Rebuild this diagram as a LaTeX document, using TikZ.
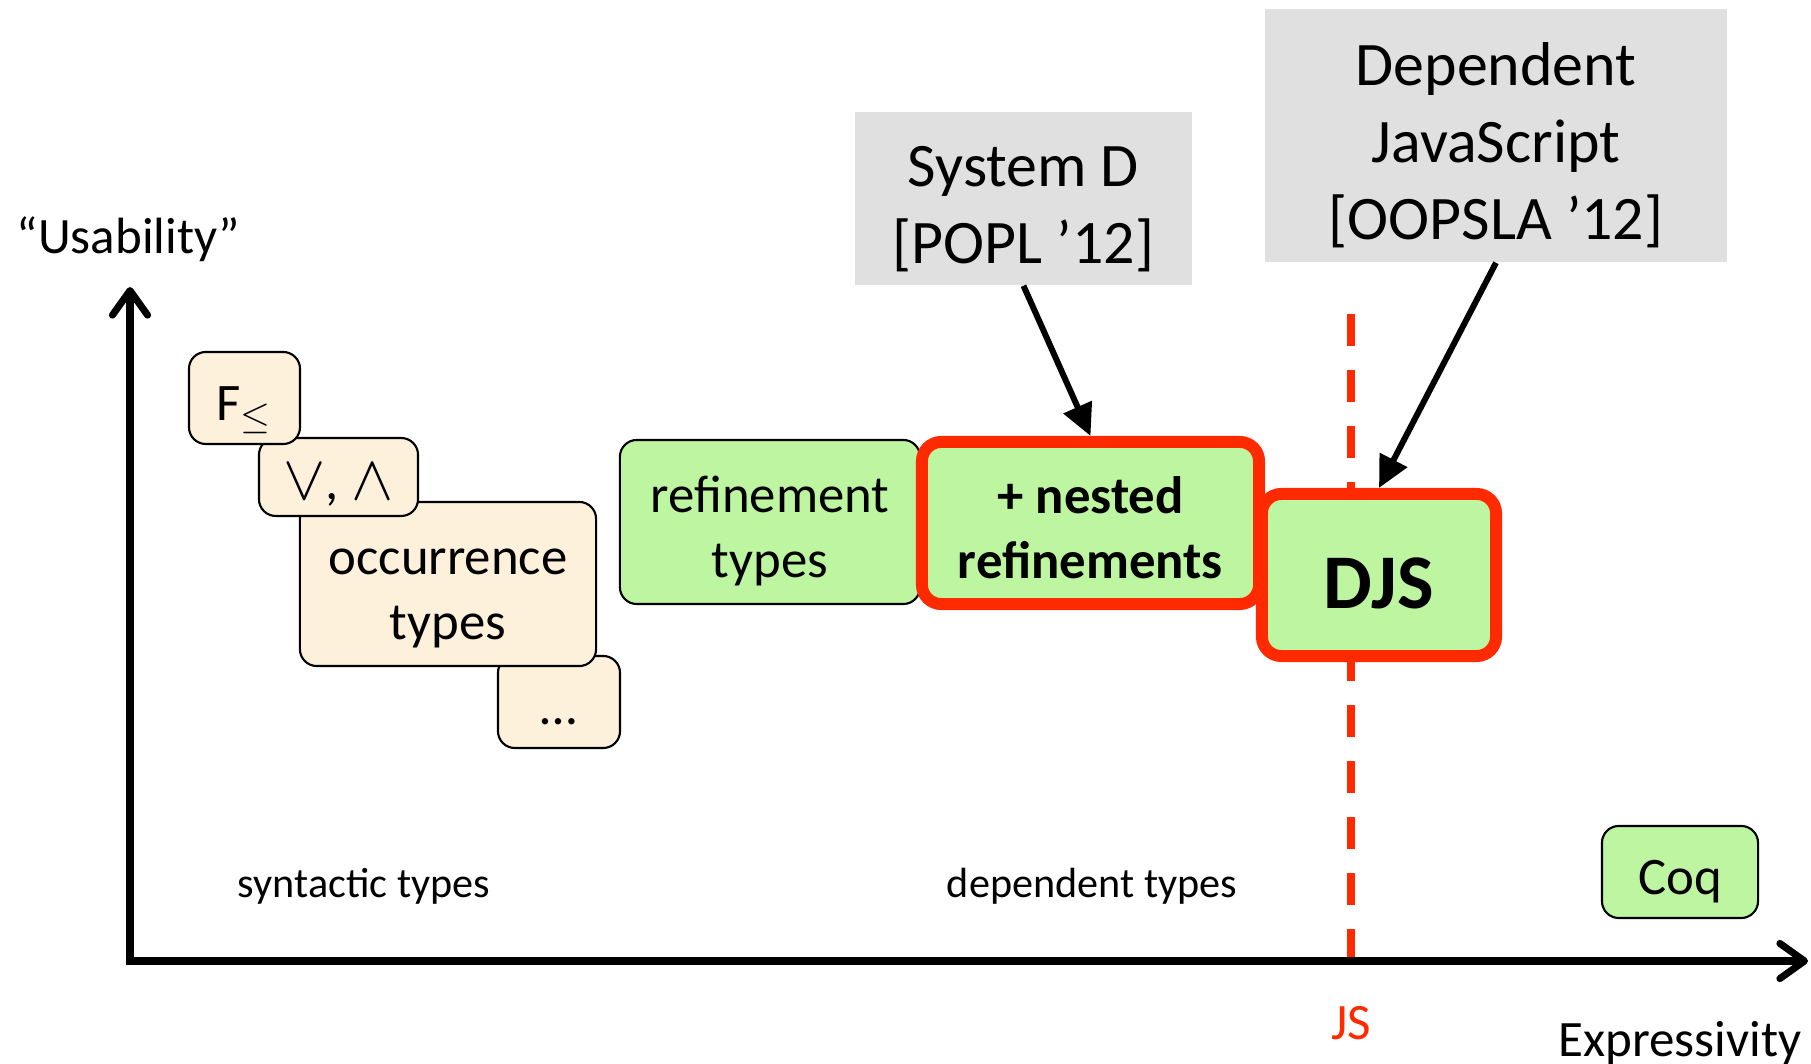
\documentclass[tikz,border=0pt]{standalone}
\usepackage{fontspec}
\setmainfont{Carlito}
\usetikzlibrary{arrows.meta}

\definecolor{creamfill}{HTML}{FDF1DC}
\definecolor{greenfill}{HTML}{BEF5A0}
\definecolor{grayfill}{HTML}{E0E0E0}
\definecolor{jsred}{HTML}{FF2A00}

% text lines padded like the slide's text frames
\newcommand{\boxlines}[1]{\rule{0pt}{1.11em}#1\rule[-0.25em]{0pt}{0.25em}}

\begin{document}
\begin{tikzpicture}[x=0.01cm, y=-0.01cm,
    creambox/.style={draw=black, line width=0.6pt, fill=creamfill, rounded corners=4.8pt,
        inner sep=0pt, align=center, font=\fontsize{15}{18.5}\selectfont},
    greenbox/.style={creambox, fill=greenfill},
    redbox/.style={greenbox, draw=jsred, line width=3.4pt, rounded corners=5.5pt},
    graybox/.style={fill=grayfill, inner sep=0pt, align=center, font=\fontsize{17.6}{21.9}\selectfont},
    pointer/.style={line width=1.7pt, -{Triangle[length=9pt, width=8.5pt]}},
    axis/.style={line width=2pt, line join=miter,
        {Straight Barb[length=7pt, width=10pt, round]}-{Straight Barb[length=7pt, width=10pt, round]}},
    axislabel/.style={inner sep=0pt, font=\fontsize{14.5}{17}\selectfont},
    regionlabel/.style={inner sep=0pt, font=\fontsize{12}{14}\selectfont}]

    % fixed page
    \useasboundingbox (0,0) rectangle (1811,1064);

    % JS line, behind the boxes
    \coordinate (jstop) at (1351,314);
    \coordinate (jsaxis) at (1351,961);
    \draw [jsred, line width=2.3pt, dash pattern=on 9.1pt off 6.8pt] (jstop) -- (jsaxis);

    % axes
    \coordinate (origin) at (130,961);
    \coordinate (ytip) at (130,287);
    \coordinate (xtip) at (1808,961);
    \draw [axis] (ytip) -- (origin) -- (xtip);

    \node [axislabel] (usab) at (128.5,239) {“Usability”};
    \node [axislabel] (expr) at (1680,1043) {Expressivity};
    \node [axislabel, text=jsred] (js) at (1351,1023) {JS};

    \node [regionlabel] (syn) at (364,886) {syntactic types};
    \node [regionlabel] (dep) at (1092,886) {dependent types};

    % syntactic systems, stacked
    \node [creambox, minimum width=1.22cm, minimum height=0.92cm] (dots) at (559,702) {\boxlines{…}};
    \node [creambox, minimum width=2.96cm, minimum height=1.64cm] (occ) at (448,584) {\boxlines{occurrence\\types}};
    \node [creambox, minimum width=1.59cm, minimum height=0.78cm] (orand) at (338.5,477) {\boxlines{\scalebox{1.25}{$\vee$}, \scalebox{1.25}{$\wedge$}}};
    \node [creambox, minimum width=1.11cm, minimum height=0.92cm] (fsub) at (244.5,398) {\boxlines{F$_{\leq}$}};

    % dependent systems
    \node [greenbox, minimum width=3.00cm, minimum height=1.64cm] (refine) at (770,522) {\boxlines{refinement\\types}};
    \node [redbox, minimum width=3.37cm, minimum height=1.62cm, font=\fontsize{15}{18.5}\selectfont\bfseries] (nested) at (1090.5,523) {\boxlines{+ nested\\refinements}};
    \node [redbox, minimum width=2.34cm, minimum height=1.62cm, font=\fontsize{22}{26}\selectfont\bfseries] (djs) at (1379,575) {\boxlines{DJS}};
    \node [greenbox, minimum width=1.56cm, minimum height=0.92cm] (coq) at (1680,872) {\boxlines{Coq}};

    % papers
    \node [graybox, minimum width=3.37cm, minimum height=1.73cm] (sysd) at (1023.5,198.5) {\boxlines{System D\\{[}POPL ’12{]}}};
    \node [graybox, minimum width=4.62cm, minimum height=2.53cm] (depjs) at (1496,135.5) {\boxlines{Dependent\\JavaScript\\{[}OOPSLA ’12{]}}};

    \draw [pointer] (sysd.south) -- (nested.north);
    \draw [pointer] (depjs.south) -- (djs.north);
\end{tikzpicture}
\end{document}
